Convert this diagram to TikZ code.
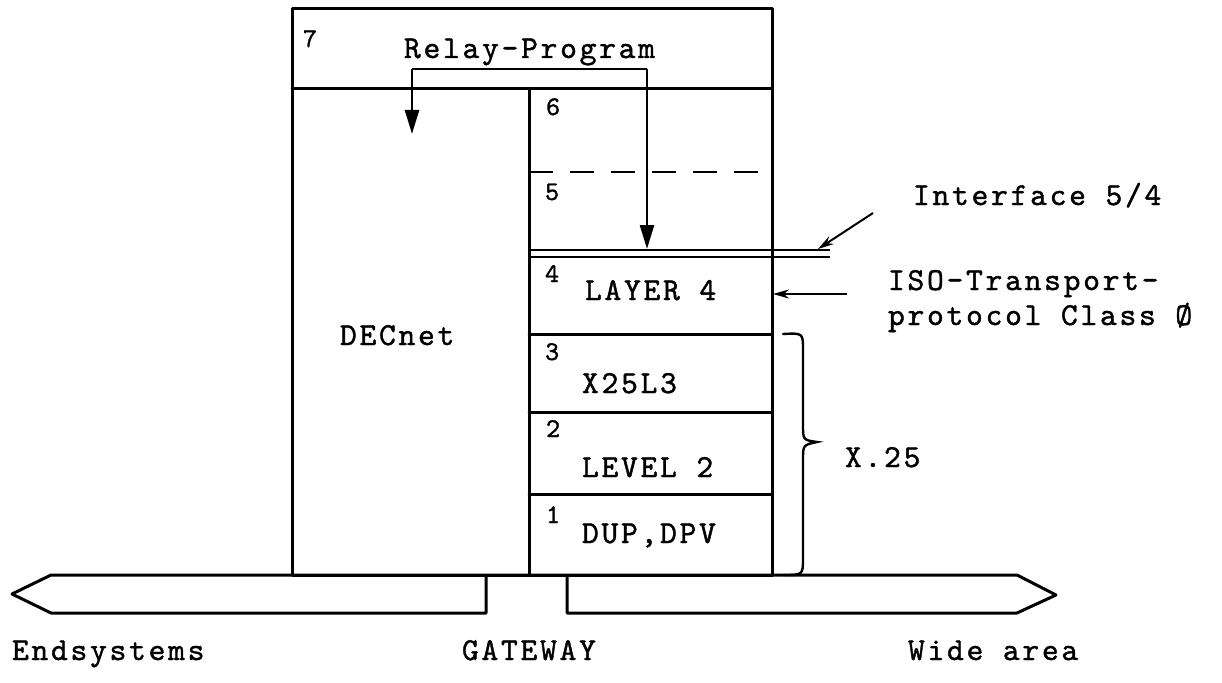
\documentclass[tikz,border=0pt]{standalone}
\usepackage{fontspec}
\newfontfamily\tw{lmmono10-regular}[Extension=.otf, LetterSpace=8.5, FakeBold=1.2]
\usetikzlibrary{arrows.meta}
\begin{document}
\begin{tikzpicture}[x=1pt,y=-1pt,
  every node/.style={inner sep=0pt, outer sep=0pt},
  lbl/.style={anchor=base west, font=\tw\fontsize{32}{36}\selectfont},
  num/.style={anchor=base west, font=\tw\fontsize{27}{30}\selectfont},
  thick line/.style={line width=3pt, line join=round, line cap=round},
  thin line/.style={line width=2.2pt},
  relayarrow/.style={line width=2.6pt, -{Triangle[length=24pt,width=14pt]}},
  notearrow/.style={line width=2pt, -{Stealth[length=16pt,width=9pt]}}]
\useasboundingbox (0,0) rectangle (1222,682);
% gateway box
\draw[thick line] (292,9) rectangle (772,575);
\draw[thick line] (292,89) -- (772,89);
\draw[thick line] (529,89) -- (529,575);
\draw[thin line, dash pattern=on 24pt off 17pt] (529,172) -- (772,172);
% interface 5/4 double line
\draw[thin line] (529,250) -- (830,250);
\draw[thin line] (529,257) -- (830,257);
% layer dividers
\draw[thick line] (529,334) -- (772,334);
\draw[thick line] (529,412) -- (772,412);
\draw[thick line] (529,494) -- (772,494);
% bottom arrows
\draw[thick line] (486,575) -- (486,613) -- (51,613) -- (12,594) -- (51,575) -- (1017,575) -- (1056,595) -- (1017,613) -- (567,613) -- (567,575);
% labels
\node[num] (n7) at (303,47) {7};
\node[lbl] (relay) at (404,58) {Relay-Program};
\node[num] (n6) at (546,115) {6};
\node[num] (n5) at (545,200) {5};
\node[num] (n4) at (545,282) {4};
\node[lbl] (l4) at (585,300) {LAYER 4};
\node[num] (n3) at (545,360) {3};
\node[lbl] (l3) at (582,393) {X25L3};
\node[num] (n2) at (546,437) {2};
\node[lbl] (l2) at (582,477) {LEVEL 2};
\node[num] (n1) at (546,523) {1};
\node[lbl] (l1) at (582,543) {DUP,DPV};
\node[lbl] (dec) at (340,345) {DECnet};
\node[lbl] (x25) at (845,467) {X.25};
\node[lbl] (iface) at (913,205) {Interface 5/4};
\node[lbl] (iso1) at (888,290) {ISO-Transport-};
\node[lbl] (iso2) at (888,325) {protocol Class Ø};
\node[lbl] (endsys) at (12,660) {Endsystems};
\node[lbl] (gw) at (462,660) {GATEWAY};
\node[lbl] (wide) at (908,660) {Wide area};
% relay arrows
\coordinate (rl) at (412,69);
\coordinate (rr) at (647,69);
\coordinate (rdec) at (412,134);
\coordinate (rif) at (647,249);
\draw[line width=2.6pt] (rl) -- (rr);
\draw[relayarrow] (rl) -- (rdec);
\draw[relayarrow] (rr) -- (rif);
% note arrows
\coordinate (ifs) at (873,213);
\coordinate (ife) at (818,249);
\draw[notearrow] (ifs) -- (ife);
\coordinate (isos) at (847,294);
\coordinate (isoe) at (773,294);
\draw[notearrow] (isos) -- (isoe);
% brace
\draw[line width=2.4pt, line cap=round] (783,334) .. controls (803,333) .. (803,350) -- (803,425) .. controls (803,440) .. (817,442) .. controls (803,445) .. (803,460) -- (803,558) .. controls (803,575) .. (783,575);
\end{tikzpicture}
\end{document}
